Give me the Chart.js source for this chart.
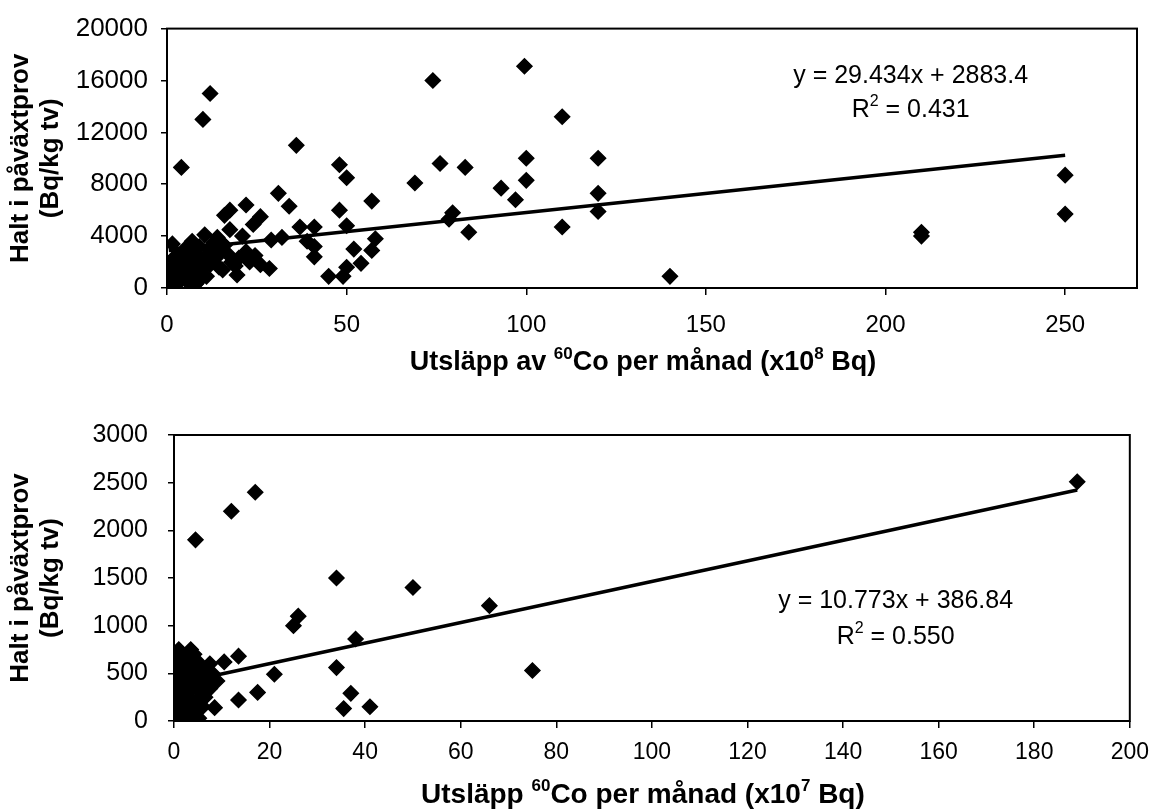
<!DOCTYPE html>
<html>
<head>
<meta charset="utf-8">
<title>Halt i påväxtprov mot utsläpp av 60Co</title>
<script src="https://cdn.jsdelivr.net/npm/chart.js@4.4.1/dist/chart.umd.min.js"></script>
<style>
  html, body { margin: 0; padding: 0; background: #fff; }
  #wrap { position: relative; width: 1160px; height: 810px; overflow: hidden; }
  .panel { position: absolute; left: 0; width: 1160px; }
</style>
</head>
<body>
<div id="wrap">
  <div class="panel" style="top:0;height:400px"><canvas id="chartTop" width="1160" height="400"></canvas></div>
  <div class="panel" style="top:400px;height:410px"><canvas id="chartBottom" width="1160" height="410"></canvas></div>
</div>
<script>
// ---- Upper panel: monthly 60Co release (x10^8 Bq) vs. concentration in periphyton samples ----
const topReleaseX = [
  12, 10, 4, 36, 48, 50, 31, 34, 48, 57, 22, 17.5, 16, 26, 24, 17.5, 37, 41, 39, 41, 41, 50, 58, 57, 52, 54, 50, 49, 45,
  28.5, 32, 29, 21, 19.5, 19, 15.5, 24.5,
  74, 99.5, 110, 69, 76, 83, 100, 100, 93, 97, 120, 120, 120, 110, 79.5, 78.5, 84, 140, 210, 210, 250, 250,
  0.5, 1, 1, 1.5, 2, 2, 2.5, 3, 3, 3.5, 4, 4.5, 5, 5, 5.5, 6, 6.5, 7, 7, 7.5, 8, 8.5, 9, 9, 9.5, 10, 10.5, 11,
  11.5, 12, 12.5, 13, 13.5, 14, 14.5, 15, 16, 17, 18, 20, 22, 23, 26, 1.5, 3, 6, 8, 0.5
];
const topConcY = [
  15000, 13000, 9300, 11000, 9500, 8500, 7300, 6300, 6000, 6700, 6400, 6000, 5600, 5500, 4900, 4500, 4700, 4700, 3600, 3200, 2400, 4800, 3800, 2900, 3000, 1900, 1600, 900, 900,
  1500, 3900, 3700, 4000, 1000, 1700, 1400, 2500,
  16000, 17100, 13200, 8100, 9600, 9300, 10000, 8300, 7700, 6800, 10000, 7300, 5900, 4700, 5800, 5300, 4300, 900, 4000, 4300, 8700, 5700,
  200, 600, 1400, 2200, 900, 300, 1800, 1200, 2600, 500, 1600, 2200, 800, 3000, 1300, 400, 2000, 3600, 1000, 2800, 1700, 2500, 600, 3200, 1400, 2200, 4100, 900,
  3000, 1800, 2700, 3500, 2300, 3900, 1600, 2900, 3300, 2600, 2000, 2300, 2800, 2000, 1800, 3400, 400, 2700, 300, 1000
];
const topXTicks = [0, 50, 100, 150, 200, 250];
const topYTicks = [0, 4000, 8000, 12000, 16000, 20000];
const topSlope = 29.434;
const topIntercept = 2883.4;
const topR2 = '0.431';

// ---- Lower panel: monthly 60Co release (x10^7 Bq) vs. concentration in periphyton samples ----
const bottomReleaseX = [
  4.5, 12, 17, 34, 50, 26, 25, 38, 34, 21, 13.5, 10.5, 37, 35.5, 41, 17.5, 13.5, 8.5, 7.5, 66, 75, 189,
  0.3, 0.5, 0.5, 0.8, 1, 1, 1.2, 1.5, 1.5, 1.8, 2, 2, 2.2, 2.5, 2.5, 2.8, 3, 3, 3.2, 3.5, 3.5, 3.8, 4, 4, 4.2,
  4.5, 4.5, 5, 5, 5.2, 5.5, 5.8, 6, 6, 6.5, 7, 7.5, 8, 9, 0.2, 1.2, 2.8, 4.8
];
const bottomConcY = [
  1900, 2200, 2400, 1500, 1400, 1100, 1000, 860, 560, 490, 680, 620, 290, 130, 150, 300, 220, 140, 340, 1210, 530, 2510,
  50, 200, 400, 650, 750, 100, 300, 520, 30, 700, 180, 420, 600, 80, 320, 500, 250, 680, 40, 450, 750, 150, 580, 350, 700,
  100, 480, 230, 620, 30, 400, 300, 550, 150, 250, 450, 600, 500, 420, 560, 480, 130, 40
];
const bottomXTicks = [0, 20, 40, 60, 80, 100, 120, 140, 160, 180, 200];
const bottomYTicks = [0, 500, 1000, 1500, 2000, 2500, 3000];
const bottomSlope = 10.773;
const bottomIntercept = 386.84;
const bottomR2 = '0.550';

const FONT = '"Liberation Sans", Arial, Helvetica, sans-serif';

function toPoints(xs, ys) {
  return xs.map((x, i) => ({ x: x, y: ys[i] }));
}
function trendPoints(xs, slope, intercept) {
  const lo = Math.min(...xs), hi = Math.max(...xs);
  return [{ x: lo, y: slope * lo + intercept }, { x: hi, y: slope * hi + intercept }];
}

// Text with superscript parts, drawn centred on x with its baseline at y
function drawRich(ctx, parts, x, y, size, bold) {
  const w = bold ? 'bold ' : '';
  const base = w + size + 'px ' + FONT;
  const small = w + Math.round(size * 0.62) + 'px ' + FONT;
  let total = 0;
  const widths = parts.map(([t, sup]) => {
    ctx.font = sup ? small : base;
    const m = ctx.measureText(t).width;
    total += m;
    return m;
  });
  let cx = x - total / 2;
  ctx.save();
  ctx.fillStyle = '#000';
  ctx.textAlign = 'left';
  ctx.textBaseline = 'alphabetic';
  parts.forEach(([t, sup], i) => {
    ctx.font = sup ? small : base;
    ctx.fillText(t, cx, sup ? y - size * 0.42 : y);
    cx += widths[i];
  });
  ctx.restore();
}

// Frame around the plot area, x-axis title and regression labels
const panelDecor = {
  id: 'panelDecor',
  afterDraw(chart, args, opts) {
    const { ctx, chartArea: a, scales } = chart;
    ctx.save();
    ctx.strokeStyle = '#000';
    ctx.lineWidth = 2;
    ctx.strokeRect(a.left, a.top, a.right - a.left, a.bottom - a.top);
    ctx.restore();
    drawRich(ctx, opts.xTitle, (a.left + a.right) / 2 + opts.xTitleShift, opts.xTitleBaseline, opts.xTitleSize, true);
    opts.notes.forEach(n => {
      drawRich(ctx, n.parts, scales.x.getPixelForValue(n.x), scales.y.getPixelForValue(n.y), n.size, false);
    });
  }
};

function makeOptions(cfg) {
  return {
    responsive: false,
    animation: false,
    devicePixelRatio: 1,
    layout: { padding: { left: 0, top: cfg.padTop, right: cfg.padRight, bottom: 0 } },
    plugins: {
      legend: { display: false },
      tooltip: { enabled: false },
      panelDecor: cfg.decor
    },
    scales: {
      x: {
        type: 'linear',
        min: cfg.xMin, max: cfg.xMax,
        border: { display: false },
        grid: { drawOnChartArea: false, drawTicks: true, tickLength: 7, color: '#000', lineWidth: 1.5 },
        ticks: { color: '#000', font: { family: FONT, size: cfg.xTickSize }, padding: cfg.xTickPad, maxRotation: 0,
                 callback: v => String(v) },
        afterBuildTicks: s => { s.ticks = cfg.xTicks.map(v => ({ value: v })); },
        afterFit: s => { s.height = cfg.xAxisHeight; }
      },
      y: {
        type: 'linear',
        min: cfg.yMin, max: cfg.yMax,
        border: { display: false },
        grid: { drawOnChartArea: false, drawTicks: true, tickLength: 6, color: '#000', lineWidth: 1.5 },
        ticks: { color: '#000', font: { family: FONT, size: cfg.yTickSize }, padding: cfg.yTickPad,
                 callback: v => String(v) },
        afterBuildTicks: s => { s.ticks = cfg.yTicks.map(v => ({ value: v })); },
        afterFit: s => { s.width = cfg.yAxisWidth; },
        title: {
          display: true,
          text: ['Halt i påväxtprov', '(Bq/kg tv)'],
          color: '#000',
          font: { family: FONT, size: cfg.yTitleSize, weight: 'bold', lineHeight: 1.15 },
          padding: { top: cfg.yTitlePad, bottom: 0 }
        }
      }
    }
  };
}

function makeData(xs, ys, slope, intercept) {
  return {
    datasets: [
      {
        type: 'line',
        data: trendPoints(xs, slope, intercept),
        borderColor: '#000',
        borderWidth: 3.5,
        pointRadius: 0,
        fill: false,
        tension: 0
      },
      {
        type: 'scatter',
        data: toPoints(xs, ys),
        pointStyle: 'rectRot',
        pointRadius: 7.5,
        backgroundColor: '#000',
        borderColor: '#000',
        borderWidth: 1.5
      }
    ]
  };
}

new Chart(document.getElementById('chartTop'), {
  type: 'scatter',
  data: makeData(topReleaseX, topConcY, topSlope, topIntercept),
  options: makeOptions({
    padTop: 24, padRight: 23,
    xMin: 0, xMax: 270, yMin: 0, yMax: 20000,
    xTicks: topXTicks, yTicks: topYTicks,
    xTickSize: 24, yTickSize: 26, xTickPad: 16, yTickPad: 13,
    xAxisHeight: 112, yAxisWidth: 167,
    yTitleSize: 26, yTitlePad: 6,
    decor: {
      xTitle: [['Utsläpp av '], ['60', true], ['Co per månad (x10'], ['8', true], [' Bq)']],
      xTitleBaseline: 370, xTitleSize: 27, xTitleShift: -9,
      notes: [
        { parts: [['y = ' + topSlope + 'x + ' + topIntercept]], x: 207, y: 15800, size: 25 },
        { parts: [['R'], ['2', true], [' = ' + topR2]], x: 207, y: 13200, size: 25 }
      ]
    }
  }),
  plugins: [panelDecor]
});

new Chart(document.getElementById('chartBottom'), {
  type: 'scatter',
  data: makeData(bottomReleaseX, bottomConcY, bottomSlope, bottomIntercept),
  options: makeOptions({
    padTop: 21, padRight: 22,
    xMin: 0, xMax: 200, yMin: 0, yMax: 3000,
    xTicks: bottomXTicks, yTicks: bottomYTicks,
    xTickSize: 23, yTickSize: 25, xTickPad: 11, yTickPad: 20,
    xAxisHeight: 89, yAxisWidth: 174,
    yTitleSize: 26, yTitlePad: 6,
    decor: {
      xTitle: [['Utsläpp '], ['60', true], ['Co per månad (x10'], ['7', true], [' Bq)']],
      xTitleBaseline: 403, xTitleSize: 28, xTitleShift: -9,
      notes: [
        { parts: [['y = ' + bottomSlope + 'x + ' + bottomIntercept]], x: 151, y: 1190, size: 25 },
        { parts: [['R'], ['2', true], [' = ' + bottomR2]], x: 151, y: 810, size: 25 }
      ]
    }
  }),
  plugins: [panelDecor]
});
</script>
</body>
</html>
